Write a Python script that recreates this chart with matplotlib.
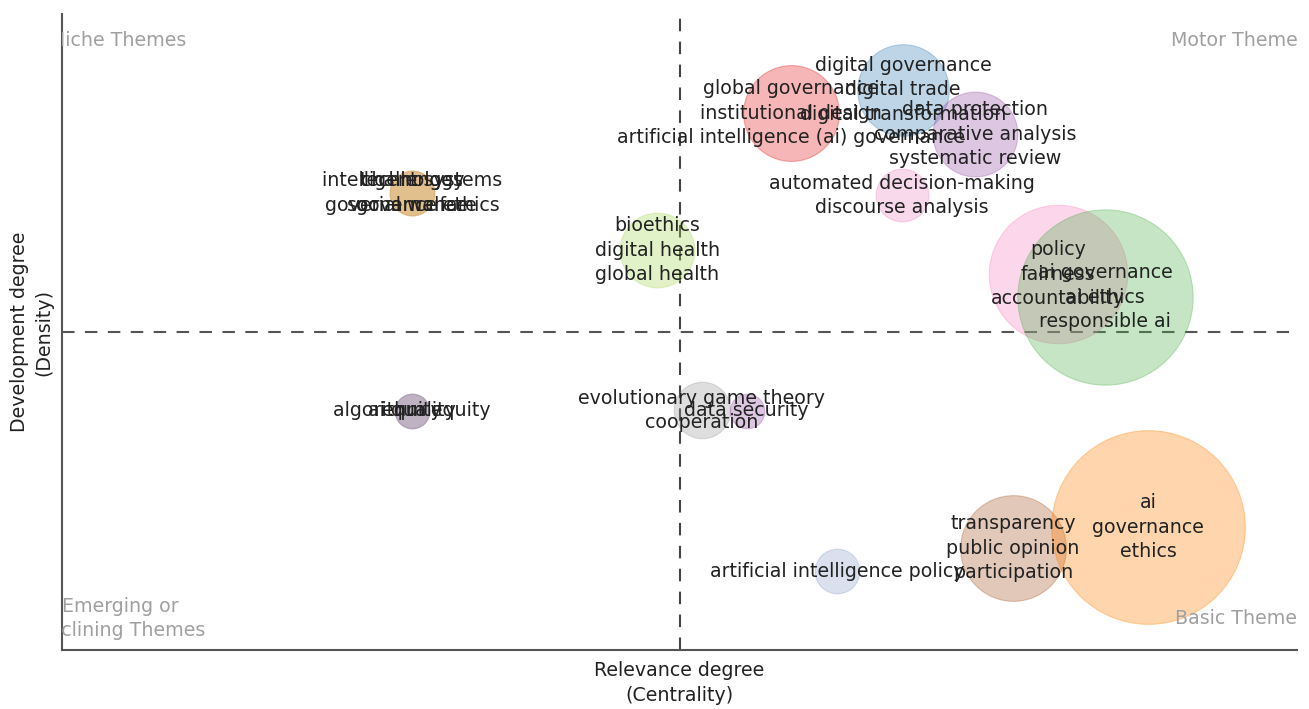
import matplotlib
matplotlib.use('Agg')
import matplotlib.pyplot as plt
import numpy as np

# Cluster data (centrality, density, frequency, colour, labels)
centrality = [0.567, 0.567, 0.567, 0.567, 0.567, 0.567,
              0.964, 1.181, 1.362, 1.479, 1.360, 1.613, 1.689,
              1.036, 1.109, 1.255, 1.540, 1.759]
density = [71.9, 71.9, 71.9, 37.6, 37.6, 37.6,
           62.9, 84.4, 88.1, 81.1, 71.5, 59.1, 55.5,
           37.7, 37.6, 12.4, 16.0, 19.3]
freq = [5, 5, 5, 3, 3, 3,
        14, 23, 21, 18, 7, 48, 77,
        8, 3, 5, 28, 94]
colors = ['#FFD92F', '#A65628', '#E5C494', '#B3B3B3', '#999999', '#A07CB0',
          '#A6D854', '#E41A1C', '#377EB8', '#984EA3', '#E78AC3', '#F781BF', '#4DAF4A',
          '#999999', '#984EA3', '#8DA0CB', '#A65628', '#FF7F00']
labels = [
    ['intelligent systems', 'governance'],
    ['technology', 'social welfare'],
    ['challenges', 'governance ethics'],
    ['algorithm equity'],
    ['ai quality'],
    ['equity'],
    ['bioethics', 'digital health', 'global health'],
    ['global governance', 'institutional design', 'artificial intelligence (ai) governance'],
    ['digital governance', 'digital trade', 'digital transformation'],
    ['data protection', 'comparative analysis', 'systematic review'],
    ['automated decision-making', 'discourse analysis'],
    ['policy', 'fairness', 'accountability'],
    ['ai governance', 'ai ethics', 'responsible ai'],
    ['evolutionary game theory', 'cooperation'],
    ['data security'],
    ['artificial intelligence policy'],
    ['transparency', 'public opinion', 'participation'],
    ['ai', 'governance', 'ethics'],
]

x_mid = 1.0
y_mid = 50.0

fig = plt.figure(figsize=(13.09, 7.09), dpi=100)
ax = fig.add_axes([0.0474, 0.0832, 0.9434, 0.8968])

ax.set_xlim(0, 2.0)
ax.set_ylim(0, 100)

# bubbles
for i in range(len(centrality)):
    ax.scatter(centrality[i], density[i], s=freq[i] * 207, color=colors[i],
               alpha=0.32, edgecolors=colors[i], linewidths=0.8, zorder=2)

# quadrant lines
ax.axvline(x_mid, color='#444444', linestyle=(0, (6, 5)), linewidth=1.5, zorder=1)
ax.axhline(y_mid, color='#555555', linestyle=(0, (6, 5)), linewidth=1.5, zorder=1)

# labels, stacked around each bubble centre
line_gap = 17.6
for i in range(len(centrality)):
    n = len(labels[i])
    for j, lab in enumerate(labels[i]):
        off = ((n - 1) / 2 - j) * line_gap
        ax.annotate(lab, (centrality[i], density[i]), xytext=(0, off),
                    textcoords='offset points', ha='center', va='center',
                    fontsize=13.7, color='#222222', zorder=3)

# quadrant names (clipped at the axes edges)
qcol = '#a0a0a0'
ax.text(0.091, 95.8, 'Niche Themes', ha='center', va='center', fontsize=13.7,
        color=qcol, clip_on=True)
ax.text(1.906, 95.8, 'Motor Themes', ha='center', va='center', fontsize=13.7,
        color=qcol, clip_on=True)
ax.text(0.094, 4.95, 'Emerging or\nDeclining Themes', ha='center', va='center',
        fontsize=13.7, color=qcol, clip_on=True, linespacing=1.35)
ax.text(1.909, 4.9, 'Basic Themes', ha='center', va='center', fontsize=13.7,
        color=qcol, clip_on=True)

ax.set_xticks([])
ax.set_yticks([])
for side in ['top', 'right']:
    ax.spines[side].set_visible(False)
for side in ['left', 'bottom']:
    ax.spines[side].set_color('#555555')
    ax.spines[side].set_linewidth(1.5)

ax.set_xlabel('Relevance degree\n(Centrality)', fontsize=13.7, color='#222222',
              labelpad=8, linespacing=1.4)
ax.set_ylabel('Development degree\n(Density)', fontsize=13.7, color='#222222',
              labelpad=6, linespacing=1.4)

fig.savefig('out.png', dpi=100)
